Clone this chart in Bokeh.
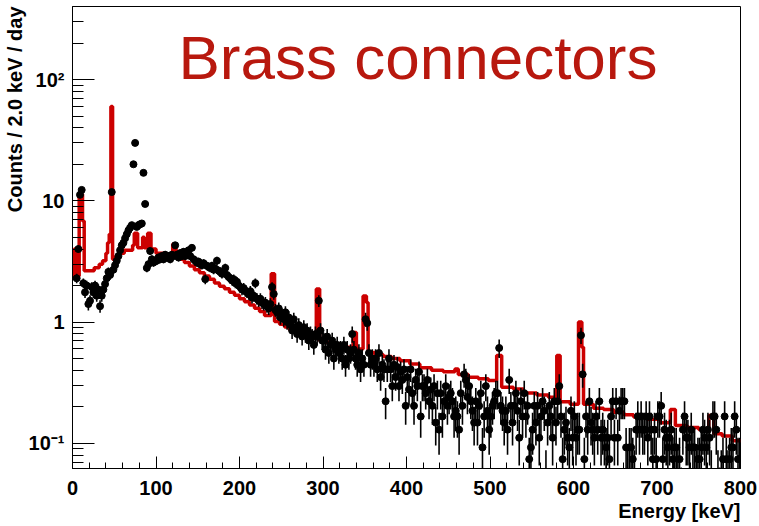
import math
from bokeh.plotting import figure
from bokeh.models import FixedTicker, Label, Title, CustomJSTickFormatter, ColumnDataSource
from bokeh.embed import file_html
from bokeh.resources import INLINE

# ---------------- data ----------------
BIN_WIDTH_KEV = 2.0
LIVE_DAYS = 54.0          # counts -> counts/day
E_MIN, E_MAX = 0.0, 800.0

# measured counts per 2 keV bin (0-800 keV), 10 bins per row
data_counts = [
    0, 0, 124, 216, 605, 664, 113, 95, 108, 76,
    81, 105, 95, 108, 89, 100, 73, 89, 100, 111,
    124, 140, 132, 637, 146, 159, 173, 189, 211, 232,
    243, 265, 286, 308, 324, 340, 1080, 1620, 329, 340,
    346, 351, 918, 508, 151, 162, 208, 178, 167, 173,
    173, 184, 178, 189, 178, 194, 184, 189, 178, 194,
    189, 232, 194, 184, 200, 189, 205, 189, 200, 211,
    189, 221, 178, 173, 167, 170, 162, 159, 165, 122,
    157, 154, 151, 157, 146, 149, 173, 143, 140, 135,
    138, 151, 132, 127, 124, 119, 122, 113, 116, 108,
    105, 100, 103, 97, 95, 92, 97, 86, 89, 113,
    84, 81, 84, 78, 76, 78, 73, 70, 76, 105,
    92, 68, 65, 70, 59, 62, 57, 65, 54, 59,
    51, 46, 57, 49, 43, 51, 46, 41, 49, 43,
    46, 38, 43, 41, 35, 43, 41, 81, 46, 38,
    38, 32, 41, 30, 35, 38, 27, 32, 35, 30,
    32, 27, 35, 24, 32, 27, 30, 43, 32, 27,
    24, 30, 22, 27, 24, 57, 53, 30, 24, 27,
    24, 27, 22, 30, 19, 24, 22, 12, 22, 27,
    22, 16, 24, 19, 23, 16, 21, 18, 22, 11,
    19, 15, 22, 14, 11, 18, 16, 21, 9, 16,
    16, 14, 18, 12, 15, 11, 16, 8, 14, 7,
    14, 9, 12, 16, 11, 13, 14, 12, 9, 10,
    9, 7, 14, 11, 20, 18, 13, 16, 12, 10,
    8, 12, 8, 11, 14, 5, 9, 16, 10, 7,
    9, 11, 12, 14, 14, 33, 11, 10, 8, 10,
    7, 18, 11, 8, 11, 14, 10, 6, 12, 9,
    14, 9, 11, 4, 5, 7, 11, 8, 11, 6,
    9, 12, 10, 3, 8, 11, 9, 6, 12, 8,
    12, 16, 9, 4, 7, 8, 6, 5, 10, 6,
    9, 6, 7, 7, 42, 20, 4, 9, 7, 12,
    8, 7, 6, 9, 7, 12, 6, 7, 6, 5,
    6, 4, 9, 12, 6, 12, 6, 10, 12, 12,
    12, 5, 3, 5, 5, 4, 3, 7, 9, 7,
    9, 7, 7, 9, 6, 9, 7, 4, 7, 4,
    9, 9, 11, 4, 7, 6, 5, 6, 7, 4,
    5, 5, 3, 4, 2, 7, 9, 6, 6, 5,
    7, 5, 5, 3, 4, 4, 5, 7, 6, 5,
    7, 6, 3, 9, 9, 7, 3, 2, 3, 4,
    9, 4, 3, 4, 5, 5, 9, 7, 4, 4,
]

# simulated spectrum (counts / 2 keV / day): left bin edges and rates
sim_left_edges = [
    0, 2, 6, 8, 12, 14, 26, 32, 36, 40,
    42, 44, 46, 48, 52, 56, 62, 72, 74, 78,
    84, 86, 90, 94, 100, 110, 120, 124, 128, 134,
    140, 146, 152, 158, 164, 170, 176, 182, 188, 194,
    200, 206, 212, 218, 224, 230, 238, 242, 248, 254,
    260, 266, 272, 278, 284, 292, 296, 304, 312, 320,
    328, 336, 340, 348, 352, 354, 362, 372, 382, 392,
    404, 416, 430, 444, 458, 462, 474, 486, 498, 508,
    514, 528, 540, 556, 570, 580, 584, 596, 606, 610,
    612, 624, 636, 648, 660, 672, 688, 704, 716, 722,
    736, 750, 762, 768, 778, 790,
]
sim_rates = [
    2.3, 4.0, 2.4, 11.3, 6.8, 2.65, 2.8, 3.0, 3.2, 3.7,
    4.5, 5.3, 60, 3.3, 3.5, 3.7, 3.9, 4.3, 5.4, 4.1,
    5.0, 4.1, 5.4, 4.0, 3.7, 3.6, 4.4, 3.5, 3.3, 3.1,
    2.9, 2.7, 2.55, 2.4, 2.25, 2.1, 1.97, 1.88, 1.76, 1.66,
    1.56, 1.47, 1.38, 1.3, 1.22, 1.13, 2.5, 1.01, 0.96, 0.91,
    0.86, 0.82, 0.79, 0.76, 0.74, 1.87, 0.70, 0.68, 0.66, 0.64,
    0.62, 0.82, 0.60, 1.64, 1.45, 0.56, 0.54, 0.52, 0.50, 0.48,
    0.45, 0.42, 0.40, 0.39, 0.41, 0.37, 0.35, 0.34, 0.33, 0.53,
    0.29, 0.28, 0.26, 0.25, 0.24, 0.53, 0.22, 0.21, 1.0, 0.62,
    0.21, 0.195, 0.19, 0.18, 0.172, 0.165, 0.158, 0.148, 0.19, 0.14,
    0.135, 0.13, 0.17, 0.12, 0.115, 0.105,
]

x_major_ticks = [0, 100, 200, 300, 400, 500, 600, 700, 800]
y_major_ticks = [0.1, 1, 10, 100]
y_tick_labels = {"0.1": "10\u207b\u00b9", "1": "1", "10": "10", "100": "10\u00b2"}

TITLE = "Brass connectors"
Y_LABEL = "Counts / 2.0 keV / day"
X_LABEL = "Energy [keV]"

# ---------------- derived ----------------
xs, ys, lo, hi = [], [], [], []
for i, n in enumerate(data_counts):
    if n <= 0:
        continue
    c = E_MIN + (i + 0.5) * BIN_WIDTH_KEV
    r = n / LIVE_DAYS
    e = math.sqrt(n) / LIVE_DAYS
    xs.append(c)
    ys.append(r)
    lo.append(max(r - e, 1e-4))
    hi.append(r + e)
pts = ColumnDataSource(dict(x=xs, y=ys, lo=lo, hi=hi))

step_x = sim_left_edges + [E_MAX]
step_y = sim_rates + [sim_rates[-1]]

y_minor = []
for d in [0.01, 0.1, 1, 10, 100]:
    for k in range(2, 10):
        y_minor.append(k * d)

p = figure(width=759, height=526, x_range=(0, 800), y_range=(0.062, 400),
           y_axis_type="log", output_backend="svg", toolbar_location=None,
           min_border_left=72, min_border_right=19, min_border_top=6,
           min_border_bottom=58)
p.background_fill_color = "white"
p.border_fill_color = "white"
p.xgrid.visible = False
p.ygrid.visible = False
p.outline_line_color = "black"
p.outline_line_width = 1

FONT = "Liberation Sans"

xa = p.xaxis[0]
xa.ticker = FixedTicker(ticks=x_major_ticks, minor_ticks=list(range(0, 801, 20)))
xa.major_tick_in = 12
xa.major_tick_out = 0
xa.minor_tick_in = 6
xa.minor_tick_out = 0
xa.major_label_standoff = 12
xa.major_label_text_font = FONT
xa.major_label_text_font_style = "bold"
xa.major_label_text_font_size = "20px"
xa.major_label_text_color = "black"
xa.axis_line_color = "black"

ya = p.yaxis[0]
ya.ticker = FixedTicker(ticks=y_major_ticks, minor_ticks=y_minor)
ya.formatter = CustomJSTickFormatter(args=dict(m=y_tick_labels),
                                     code="const s = String(tick); return (s in m) ? m[s] : '';")
ya.major_tick_in = 22
ya.major_tick_out = 0
ya.minor_tick_in = 11
ya.minor_tick_out = 0
ya.major_label_standoff = 8
ya.major_label_text_font = FONT
ya.major_label_text_font_style = "bold"
ya.major_label_text_font_size = "20px"
ya.major_label_text_color = "black"
ya.axis_line_color = "black"

# simulation (red histogram)
p.step(step_x, step_y, mode="after", line_color="#cc0000", line_width=3.5)

# data with error bars
p.segment(x0="x", y0="lo", x1="x", y1="hi", source=pts, line_color="black", line_width=1.6)
p.scatter("x", "y", source=pts, size=7, fill_color="black", line_color="black")

# texts
p.add_layout(Label(x=106, y=411, x_units="screen", y_units="screen", text=TITLE,
                   text_font=FONT, text_font_size="62px", text_color="#b8180e",
                   text_baseline="alphabetic", text_align="left"))
p.add_layout(Title(text=X_LABEL, align="right", text_font=FONT, text_font_style="bold",
                   text_font_size="20px", text_color="black", standoff=0, offset=0),
             "below")
p.add_layout(Title(text=Y_LABEL, align="right", text_font=FONT, text_font_style="bold",
                   text_font_size="20px", text_color="black", standoff=0, offset=0),
             "left")

open("out.html", "w").write(file_html(p, INLINE))
